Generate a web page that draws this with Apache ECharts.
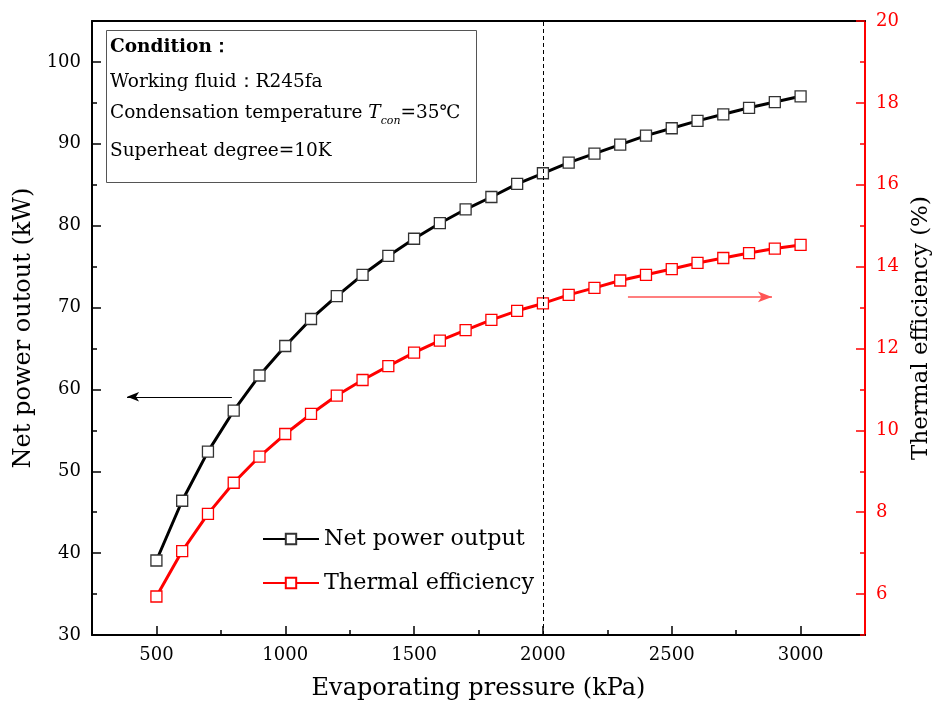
<!DOCTYPE html>
<html><head><meta charset="utf-8">
<script src="https://cdn.jsdelivr.net/npm/echarts@6/dist/echarts.min.js"></script>
<style>html,body{margin:0;padding:0;background:#fff}#c{width:935px;height:709px}</style>
</head><body><div id="c"></div><script>
const pressures = [500,600,700,800,900,1000,1100,1200,1300,1400,1500,1600,1700,1800,1900,2000,2100,2200,2300,2400,2500,2600,2700,2800,2900,3000];
const netPower = [39.1,46.4,52.4,57.4,61.7,65.3,68.6,71.4,74.0,76.3,78.4,80.3,82.0,83.5,85.1,86.4,87.7,88.8,89.9,91.0,91.9,92.8,93.6,94.4,95.1,95.8];
const thermalEff = [5.94,7.05,7.96,8.72,9.36,9.91,10.40,10.85,11.23,11.57,11.90,12.19,12.45,12.70,12.92,13.10,13.31,13.48,13.66,13.80,13.94,14.09,14.21,14.33,14.44,14.53];
const xMajorTicks = [500,1000,1500,2000,2500,3000];
const xMinorTicks = [750,1250,1750,2250,2750];
const yLeftMajor = [30,40,50,60,70,80,90,100];
const yLeftMinor = [35,45,55,65,75,85,95];
const yRightMajor = [6,8,10,12,14,16,18,20];
const yRightMinor = [5,7,9,11,13,15,17,19];
const seriesNames = ['Net power output','Thermal efficiency'];
const axisNames = {x:'Evaporating pressure (kPa)', yl:'Net power outout (kW)', yr:'Thermal efficiency (%)'};
const conditionLines = ['Condition：','Working fluid：R245fa','{n|Condensation temperature }{i|T}{s|con}{n|=35℃}','Superheat degree=10K'];
const dividerPressure = 2000;
const leftArrow = [[793,59.1],[386,59.1]];
const rightArrow = [[2330,13.26],[2889,13.26]];

const SERIF = '"DejaVu Serif", serif';
const RED = '#ff0000';
const chart = echarts.init(document.getElementById('c'));
const xBase = {type:'value', min:250, max:3250, splitLine:{show:false}};
const ylBase = {type:'value', min:30, max:105, splitLine:{show:false}};
const yrBase = {type:'value', min:5, max:20, splitLine:{show:false}};
const plain = v => String(v);
chart.setOption({
  animation:false,
  backgroundColor:'#fff',
  grid:{left:92, right:70, top:21, bottom:74, containLabel:false, outerBoundsMode:'none'},
  xAxis:[
    Object.assign({}, xBase, {position:'bottom',
      axisLine:{lineStyle:{color:'#000', width:2}},
      axisTick:{inside:true, length:9, customValues:xMajorTicks, lineStyle:{color:'#000', width:1.5}},
      axisLabel:{customValues:xMajorTicks, formatter:plain, color:'#000', fontFamily:SERIF, fontSize:18, margin:11},
      name:axisNames.x, nameLocation:'middle', nameGap:42,
      nameTextStyle:{color:'#000', fontFamily:SERIF, fontSize:24}}),
    Object.assign({}, xBase, {position:'bottom',
      axisLine:{show:false},
      axisTick:{inside:true, length:5, customValues:xMinorTicks, lineStyle:{color:'#000', width:1.5}},
      axisLabel:{show:false}}),
    Object.assign({}, xBase, {position:'top',
      axisLine:{lineStyle:{color:'#000', width:2}},
      axisTick:{show:false}, axisLabel:{show:false}})
  ],
  yAxis:[
    Object.assign({}, ylBase, {position:'left',
      axisLine:{show:true, lineStyle:{color:'#000', width:2}},
      axisTick:{show:true, inside:true, length:9, customValues:yLeftMajor, lineStyle:{color:'#000', width:1.5}},
      axisLabel:{customValues:yLeftMajor, formatter:plain, color:'#000', fontFamily:SERIF, fontSize:18, margin:11},
      name:axisNames.yl, nameLocation:'middle', nameGap:50, nameRotate:90,
      nameTextStyle:{color:'#000', fontFamily:SERIF, fontSize:24}}),
    Object.assign({}, yrBase, {position:'right',
      axisLine:{show:true, lineStyle:{color:RED, width:2}},
      axisTick:{show:true, inside:true, length:9, customValues:yRightMajor, lineStyle:{color:RED, width:1.5}},
      axisLabel:{customValues:yRightMajor, formatter:plain, color:RED, fontFamily:SERIF, fontSize:18, margin:11},
      name:axisNames.yr, nameLocation:'middle', nameGap:41, nameRotate:90,
      nameTextStyle:{color:'#000', fontFamily:SERIF, fontSize:23}}),
    Object.assign({}, ylBase, {position:'left',
      axisLine:{show:false},
      axisTick:{show:true, inside:true, length:5, customValues:yLeftMinor, lineStyle:{color:'#000', width:1.5}},
      axisLabel:{show:false}}),
    Object.assign({}, yrBase, {position:'right',
      axisLine:{show:false},
      axisTick:{show:true, inside:true, length:5, customValues:yRightMinor, lineStyle:{color:RED, width:1.5}},
      axisLabel:{show:false}})
  ],
  legend:{
    data:seriesNames, orient:'vertical', left:257, top:523,
    itemWidth:56, itemHeight:13, itemGap:22,
    textStyle:{color:'#000', fontFamily:SERIF, fontSize:22.3}
  },
  series:[
    {name:seriesNames[0], type:'line', xAxisIndex:0, yAxisIndex:0,
     data:pressures.map((p,i)=>[p, netPower[i]]),
     symbol:'rect', symbolSize:11, showAllSymbol:true,
     lineStyle:{color:'#000', width:3},
     itemStyle:{color:'#fff', borderColor:'#333', borderWidth:1.3},
     markLine:{silent:true, animation:false, label:{show:false},
       data:[
         [{coord:[dividerPressure,30], symbol:'none', lineStyle:{color:'#000', width:1, type:[4,3]}},
          {coord:[dividerPressure,105], symbol:'none', lineStyle:{color:'#000', width:1, type:[4,3]}}],
         [{coord:leftArrow[0], symbol:'none', lineStyle:{color:'#000', width:1, type:'solid'}},
          {coord:leftArrow[1], symbol:'arrow', symbolSize:[7,12], lineStyle:{color:'#000', width:1, type:'solid'}}]
       ]}},
    {name:seriesNames[1], type:'line', xAxisIndex:0, yAxisIndex:1,
     data:pressures.map((p,i)=>[p, thermalEff[i]]),
     symbol:'rect', symbolSize:11, showAllSymbol:true,
     lineStyle:{color:RED, width:3},
     itemStyle:{color:'#fff', borderColor:RED, borderWidth:1.3},
     markLine:{silent:true, animation:false, label:{show:false},
       data:[
         [{coord:rightArrow[0], symbol:'none', lineStyle:{color:'#ff5555', width:1.5, type:'solid'}},
          {coord:rightArrow[1], symbol:'arrow', symbolSize:[8,14], lineStyle:{color:'#ff5555', width:1.5, type:'solid'}}]
       ]}}
  ],
  graphic:[
    {type:'rect', left:106, top:30, z:10, shape:{width:370, height:152}, style:{fill:'#fff', stroke:'#555', lineWidth:1}},
    {type:'text', left:110, top:38, z:11, style:{text:conditionLines[0], fontFamily:SERIF, fontSize:18.5, fontWeight:'bold', fill:'#000'}},
    {type:'text', left:110, top:73, z:11, style:{text:conditionLines[1], fontFamily:SERIF, fontSize:18.5, fill:'#000'}},
    {type:'text', left:110, top:104, z:11, style:{text:conditionLines[2], fill:'#000',
      rich:{n:{fontFamily:SERIF, fontSize:18.5, lineHeight:26, verticalAlign:'middle'},
            i:{fontFamily:SERIF, fontSize:18.5, fontStyle:'italic', lineHeight:26, verticalAlign:'middle'},
            s:{fontFamily:SERIF, fontSize:11, fontStyle:'italic', lineHeight:26, verticalAlign:'bottom'}}}},
    {type:'text', left:110, top:142, z:11, style:{text:conditionLines[3], fontFamily:SERIF, fontSize:18.5, fill:'#000'}}
  ]
});
</script></body></html>
